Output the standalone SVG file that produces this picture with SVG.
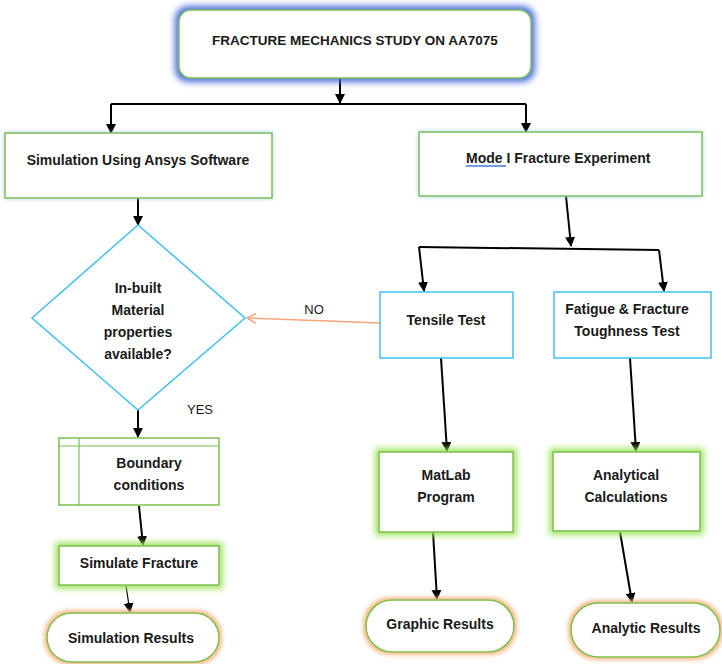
<svg xmlns="http://www.w3.org/2000/svg" width="722" height="664" viewBox="0 0 722 664">
<style>
text{font-family:"Liberation Sans",Arial,sans-serif;font-size:14px;font-weight:bold;fill:#1a1a1a;text-anchor:middle}
.lbl{font-weight:normal;font-size:13px}
.g{fill:#fff;stroke:#7cc04f;stroke-width:1.5}
.b{fill:#fff;stroke:#3fbfef;stroke-width:1.5}
.c{fill:none;stroke:#000;stroke-width:2;marker-end:url(#ah)}
.o{fill:none;stroke:#f4a57e;stroke-width:1.5;marker-end:url(#oh)}
</style>
<defs>
<marker id="ah" viewBox="0 0 10 10" refX="9" refY="5" markerWidth="10" markerHeight="10" markerUnits="userSpaceOnUse" orient="auto">
<path d="M0,0 L10,5 L0,10 z" fill="#000"/>
</marker>
<marker id="oh" viewBox="0 0 12 12" refX="11" refY="6" markerWidth="12" markerHeight="12" markerUnits="userSpaceOnUse" orient="auto">
<path d="M2,1 L11,6 L2,11" fill="none" stroke="#f4a57e" stroke-width="1.5"/>
</marker>
<filter id="blueGlow" x="-20%" y="-50%" width="140%" height="200%">
<feMorphology in="SourceAlpha" operator="dilate" radius="3" result="d"/>
<feGaussianBlur in="d" stdDeviation="3.5" result="bl"/>
<feFlood flood-color="#3f65d6" flood-opacity="1"/>
<feComposite in2="bl" operator="in" result="gl"/>
<feMerge><feMergeNode in="gl"/><feMergeNode in="SourceGraphic"/></feMerge>
</filter>
<filter id="softBlue" x="-20%" y="-40%" width="140%" height="180%">
<feGaussianBlur in="SourceAlpha" stdDeviation="2" result="bl"/>
<feFlood flood-color="#9ec3f0" flood-opacity="0.8"/>
<feComposite in2="bl" operator="in" result="gl"/>
<feMerge><feMergeNode in="gl"/><feMergeNode in="SourceGraphic"/></feMerge>
</filter>
<filter id="greenGlow" x="-30%" y="-40%" width="160%" height="180%">
<feMorphology in="SourceAlpha" operator="dilate" radius="2.5" result="d"/>
<feGaussianBlur in="d" stdDeviation="3" result="bl"/>
<feFlood flood-color="#9be35a" flood-opacity="0.95"/>
<feComposite in2="bl" operator="in" result="gl"/>
<feMerge><feMergeNode in="gl"/><feMergeNode in="SourceGraphic"/></feMerge>
</filter>
<filter id="orangeGlow" x="-30%" y="-40%" width="160%" height="180%">
<feMorphology in="SourceAlpha" operator="dilate" radius="1.5" result="d"/>
<feGaussianBlur in="d" stdDeviation="2" result="bl"/>
<feFlood flood-color="#f5b27a" flood-opacity="0.95"/>
<feComposite in2="bl" operator="in" result="gl"/>
<feMerge><feMergeNode in="gl"/><feMergeNode in="SourceGraphic"/></feMerge>
</filter>
</defs>
<rect width="722" height="664" fill="#fff"/>

<g id="connectors">
<path class="c" d="M340,78 L340,103"/>
<path d="M111,104 L526,104" fill="none" stroke="#000" stroke-width="2"/>
<path class="c" d="M111,104 L111,133"/>
<path class="c" d="M526,104 L526,132"/>
<path class="c" d="M138,198 L138,225"/>
<path class="c" d="M566,196 L571,246"/>
<path d="M419,247 L659,250" fill="none" stroke="#000" stroke-width="2"/>
<path class="c" d="M419,247 L424,291"/>
<path class="c" d="M659,250 L664,291"/>
<path class="o" d="M380,323 L247,318"/>
<path class="c" d="M138,410 L138,437"/>
<path class="c" d="M139,506 L143,545"/>
<path d="M126,586 L130,612" fill="none" stroke="#000" stroke-width="1.2" marker-end="url(#ah)"/>
<path class="c" d="M441,358 L447,451"/>
<path class="c" d="M433,532 L437,599"/>
<path class="c" d="M630,358 L636,451"/>
<path class="c" d="M620,532 L632,602"/>
</g>

<g id="top">
<rect x="179" y="10" width="352" height="68" rx="12" class="g" filter="url(#blueGlow)"/>
<text x="355" y="45" style="font-size:13.5px">FRACTURE MECHANICS STUDY ON AA7075</text>
</g>

<g id="simulation">
<rect x="5" y="133" width="267" height="65" class="g" filter="url(#softBlue)"/>
<text x="138" y="165">Simulation Using Ansys Software</text>
</g>

<g id="mode1">
<rect x="419" y="132" width="283" height="64" class="g" filter="url(#softBlue)"/>
<text x="466" y="163" style="text-anchor:start">Mode I Fracture Experiment</text>
<line x1="466" y1="166" x2="506" y2="166" stroke="#4a78e0" stroke-width="1.3"/>
</g>

<g id="decision">
<polygon points="138,225 245,318 138,410 32,318" class="b"/>
<text x="138" y="293">In-built</text>
<text x="138" y="315">Material</text>
<text x="138" y="337">properties</text>
<text x="138" y="359">available?</text>
</g>

<g id="tensile">
<rect x="380" y="292" width="133" height="66" class="b"/>
<text x="446" y="325">Tensile Test</text>
</g>

<g id="fatigue">
<rect x="554" y="292" width="157" height="66" class="b"/>
<text x="627" y="314">Fatigue &amp; Fracture</text>
<text x="627" y="336">Toughness Test</text>
</g>

<g id="labels">
<text class="lbl" x="314" y="314">NO</text>
<text class="lbl" x="200" y="414">YES</text>
</g>

<g id="boundary">
<rect x="59" y="438" width="160" height="67" class="g" stroke-width="1.2"/>
<line x1="79" y1="438" x2="79" y2="505" stroke="#7cc04f" stroke-width="1.2"/>
<line x1="59" y1="446" x2="219" y2="446" stroke="#7cc04f" stroke-width="1.2"/>
<text x="149" y="468">Boundary</text>
<text x="149" y="490">conditions</text>
</g>

<g id="simulate">
<rect x="59" y="546" width="160" height="39" class="g" filter="url(#greenGlow)"/>
<text x="139" y="568">Simulate Fracture</text>
</g>

<g id="simresults">
<rect x="47" y="613" width="172" height="49" rx="24.5" class="g" filter="url(#orangeGlow)"/>
<text x="131" y="643">Simulation Results</text>
</g>

<g id="matlab">
<rect x="379" y="452" width="134" height="80" class="g" filter="url(#greenGlow)"/>
<text x="446" y="480">MatLab</text>
<text x="446" y="502">Program</text>
</g>

<g id="analytical">
<rect x="553" y="452" width="147" height="79" class="g" filter="url(#greenGlow)"/>
<text x="626" y="480">Analytical</text>
<text x="626" y="502">Calculations</text>
</g>

<g id="graphic">
<rect x="366" y="600" width="148" height="52" rx="26" class="g" filter="url(#orangeGlow)"/>
<text x="440" y="629">Graphic Results</text>
</g>

<g id="analytic">
<rect x="571" y="603" width="149" height="54" rx="27" class="g" filter="url(#orangeGlow)"/>
<text x="646" y="633">Analytic Results</text>
</g>
</svg>
